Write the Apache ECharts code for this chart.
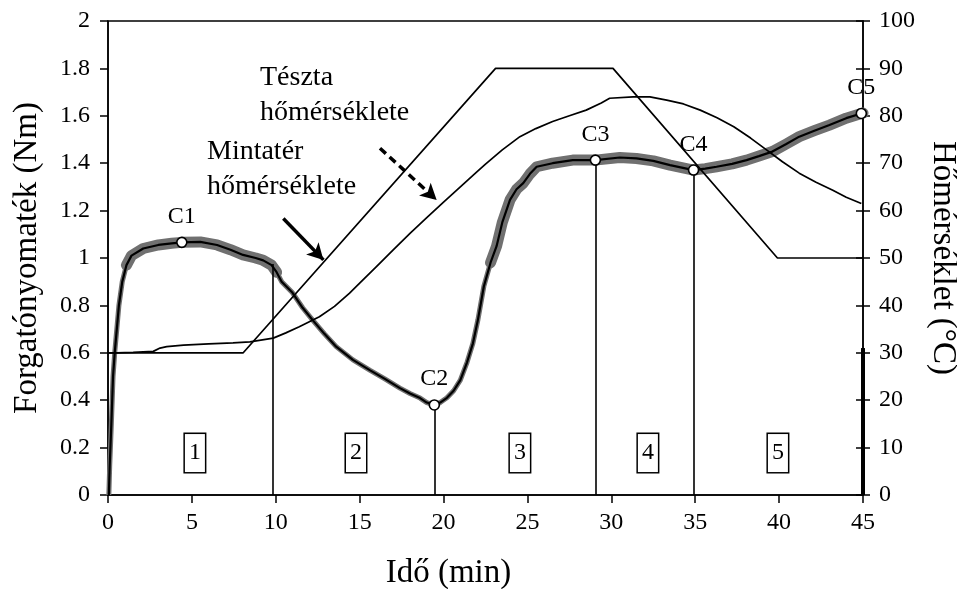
<!DOCTYPE html>
<html><head><meta charset="utf-8">
<script src="https://cdn.jsdelivr.net/npm/echarts/dist/echarts.min.js"></script>
<style>html,body{margin:0;padding:0;background:#fff}#c{width:957px;height:589px}</style>
</head><body><div id="c"></div>
<script>
// ---- data ----
const torqueTime  = [0.05,0.1,0.2,0.3,0.4,0.5,0.65,0.85,1.1,1.4,2.1,3.0,3.8,4.4,5.5,6.5,7.3,8.05,8.8,9.25,9.75,10.05,10.35,11.0,11.6,12.2,12.9,13.6,14.6,15.6,16.5,17.4,18.0,18.6,19.0,19.45,19.8,20.2,20.6,21.0,21.4,21.75,22.05,22.4,22.8,23.16,23.5,23.96,24.35,24.75,25.15,25.55,26.5,27.7,29.05,30.5,31.5,32.5,33.5,34.9,35.6,36.27,37.2,38.06,38.8,39.6,40.4,41.2,42.1,43.0,44.0,44.9,45];
const torqueValue = [0.0,0.12,0.3,0.5,0.6,0.68,0.8,0.9,0.97,1.01,1.04,1.055,1.062,1.066,1.068,1.055,1.035,1.013,1.0,0.99,0.97,0.94,0.90,0.853,0.79,0.738,0.68,0.626,0.57,0.527,0.49,0.451,0.428,0.409,0.39,0.38,0.39,0.41,0.44,0.485,0.56,0.64,0.74,0.88,0.98,1.05,1.15,1.245,1.29,1.316,1.355,1.385,1.40,1.413,1.413,1.424,1.42,1.41,1.392,1.371,1.377,1.385,1.397,1.413,1.43,1.449,1.48,1.512,1.537,1.561,1.59,1.61,1.612];
const torqueTailTime = [45,45];
const torqueTailValue = [0,0.62];

const chamberTime = [0,8.06,23.1,30.1,39.9,45];
const chamberTemp = [30,30,90,90,50,50];

const doughTime = [0,0.5,1.5,2.7,3.1,3.5,4.5,6,7.45,8.46,9.85,10.6,11.4,12.6,13.5,14.4,15.0,16.0,17.0,18.0,19.0,20.0,21.0,22.0,22.5,23.5,24.55,25.5,26.5,27.5,28.5,29.4,29.9,31.3,32.3,33.3,34.3,35.3,36.3,37.3,38.3,39.25,40.2,41.2,42.2,43.2,44.0,44.9];
const doughTemp = [30,30,30.1,30.3,31.0,31.3,31.6,31.9,32.1,32.3,33.1,34.2,35.5,37.6,39.8,42.6,44.7,48.2,51.7,55.2,58.5,61.8,65.0,68.2,69.8,72.8,75.6,77.3,78.8,80.0,81.2,82.7,83.7,84.0,84.0,83.3,82.5,81.2,79.6,77.7,75.3,72.8,70.3,67.9,66.0,64.3,62.8,61.5];

const pointNames  = ['C1','C2','C3','C4','C5'];
const pointTime   = [4.4,19.45,29.05,34.9,44.9];
const pointTorque = [1.066,0.38,1.413,1.371,1.61];

const phaseLineTime   = [9.83,19.45,29.05,34.9];
const phaseLineTorque = [0.975,0.38,1.413,1.371];

const phaseNames = ['1','2','3','4','5'];
const phaseTime  = [5.18,14.78,24.55,32.18,39.93];
const phaseLevel = 0.177;

const xTicks = [0,45,5];      // min, max, interval
const yLeftTicks = [0,2,0.2];
const yRightTicks = [0,100,10];

const noteTexts  = ['Tészta\nhőmérséklete','Mintatér\nhőmérséklete'];
const noteTime   = [9.06,5.9];
const noteTorque = [1.688,1.373];

const arrowSolidFrom = [10.45,1.167], arrowSolidTo = [12.84,0.992];
const arrowDashFrom  = [16.21,1.463], arrowDashTo  = [19.59,1.245];

// ---- chart ----
const FONT = 'Liberation Serif';
const INK = '#000';
const zip = (a,b) => a.map((v,i)=>[v,b[i]]);
const torque = zip(torqueTime, torqueValue);

const chart = echarts.init(document.getElementById('c'), null, {renderer:'canvas'});
const baseAxisLabel = {fontFamily:FONT, fontSize:24, color:INK};
chart.setOption({
  animation:false,
  backgroundColor:'#fff',
  textStyle:{fontFamily:FONT},
  grid:{left:108,right:94,top:21,bottom:94,containLabel:false,outerBoundsMode:'none',
        show:true,borderColor:INK,borderWidth:1.5,backgroundColor:'transparent'},
  xAxis:{type:'value',min:xTicks[0],max:xTicks[1],interval:xTicks[2],
    axisLine:{lineStyle:{color:INK,width:1.5}},
    axisTick:{inside:false,length:8,lineStyle:{color:INK,width:1.5}},
    axisLabel:Object.assign({margin:16},baseAxisLabel),
    splitLine:{show:false},
    name:'Idő (min)',nameLocation:'middle',nameGap:62,
    nameTextStyle:{fontFamily:FONT,fontSize:33,color:INK,padding:[0,74,0,0]}},
  yAxis:[
    {type:'value',min:yLeftTicks[0],max:yLeftTicks[1],interval:yLeftTicks[2],position:'left',
     axisLine:{show:true,lineStyle:{color:INK,width:1.5}},
     axisTick:{show:true,inside:false,length:8,lineStyle:{color:INK,width:1.5}},
     axisLabel:Object.assign({margin:18,formatter:v=>String(+v.toFixed(1))},baseAxisLabel),
     splitLine:{show:false},
     name:'Forgatónyomaték (Nm)',nameLocation:'middle',nameGap:64,
     nameTextStyle:{fontFamily:FONT,fontSize:33,color:INK}},
    {type:'value',min:yRightTicks[0],max:yRightTicks[1],interval:yRightTicks[2],position:'right',
     axisLine:{show:true,lineStyle:{color:INK,width:1.5}},
     axisTick:{show:true,inside:false,length:7,lineStyle:{color:INK,width:1.5}},
     axisLabel:Object.assign({margin:16},baseAxisLabel),
     splitLine:{show:false},
     name:'Hőmérséklet (°C)',nameLocation:'middle',nameGap:58,nameRotate:-90,
     nameTextStyle:{fontFamily:FONT,fontSize:33,color:INK}},
    {type:'value',min:yRightTicks[0],max:yRightTicks[1],interval:yRightTicks[2],position:'right',
     axisLine:{show:false},
     axisTick:{show:true,inside:true,length:7,lineStyle:{color:INK,width:1.5}},
     axisLabel:{show:false},splitLine:{show:false}}
  ],
  series:[
    {type:'line',name:'band-narrow',data:torque,symbol:'none',silent:true,z:2,
     lineStyle:{color:'#707070',width:5}},
    {type:'line',name:'band-wide-1',data:torque.filter(p=>p[0]>=0.9&&p[0]<=10.05),symbol:'none',silent:true,z:2,
     lineStyle:{color:'#707070',width:11,join:'round',cap:'round'}},
    {type:'line',name:'band-wide-2',data:torque.filter(p=>p[0]>=22.6),symbol:'none',silent:true,z:2,
     lineStyle:{color:'#707070',width:11,join:'round',cap:'round'}},
    {type:'line',name:'Mintatér',yAxisIndex:1,data:zip(chamberTime,chamberTemp),symbol:'none',z:3,
     lineStyle:{color:INK,width:1.7}},
    {type:'line',name:'Tészta',yAxisIndex:1,data:zip(doughTime,doughTemp),symbol:'none',z:3,
     lineStyle:{color:INK,width:1.7}},
    {type:'line',name:'Forgatónyomaték',data:torque,symbol:'none',z:4,
     lineStyle:{color:INK,width:2.2},
     markLine:{silent:true,symbol:'none',label:{show:false},lineStyle:{color:INK,width:1.6,type:'solid'},
       data:phaseLineTime.map((t,i)=>[{coord:[t,0]},{coord:[t,phaseLineTorque[i]]}])}},
    {type:'line',name:'tail',data:zip(torqueTailTime,torqueTailValue),symbol:'none',z:4,
     lineStyle:{color:INK,width:4}},
    {type:'line',name:'arrow-solid',data:[],markLine:{silent:true,symbol:['none','arrow'],symbolSize:[13,16],
       label:{show:false},lineStyle:{color:INK,width:3.5,type:'solid'},
       data:[[{coord:arrowSolidFrom},{coord:arrowSolidTo}]]}},
    {type:'line',name:'arrow-dash',data:[],markLine:{silent:true,symbol:['none','arrow'],symbolSize:[13,16],
       label:{show:false},lineStyle:{color:INK,width:3.5,type:[8,5]},
       data:[[{coord:arrowDashFrom},{coord:arrowDashTo}]]}},
    {type:'scatter',name:'points',z:6,data:pointTime.map((t,i)=>({value:[t,pointTorque[i]],name:pointNames[i]})),
     symbol:'circle',symbolSize:10,itemStyle:{color:'#fff',borderColor:INK,borderWidth:1.6,opacity:1},
     label:{show:true,position:'top',distance:8,formatter:p=>p.name,fontFamily:FONT,fontSize:24,color:INK}},
    {type:'scatter',name:'phases',z:6,data:phaseTime.map((t,i)=>({value:[t,phaseLevel],name:phaseNames[i]})),
     symbolSize:0,itemStyle:{opacity:1},
     label:{show:true,position:'inside',formatter:p=>p.name,fontFamily:FONT,fontSize:24,color:INK,
       borderColor:INK,borderWidth:1.5,padding:[8,4,6,4],backgroundColor:'#fff'}},
    {type:'scatter',name:'notes',z:6,data:noteTime.map((t,i)=>({value:[t,noteTorque[i]],name:noteTexts[i]})),
     symbolSize:0,itemStyle:{opacity:1},
     label:{show:true,position:'right',distance:0,align:'left',verticalAlign:'middle',formatter:p=>p.name,
       fontFamily:FONT,fontSize:28,lineHeight:35,color:INK}}
  ]
});
</script></body></html>
